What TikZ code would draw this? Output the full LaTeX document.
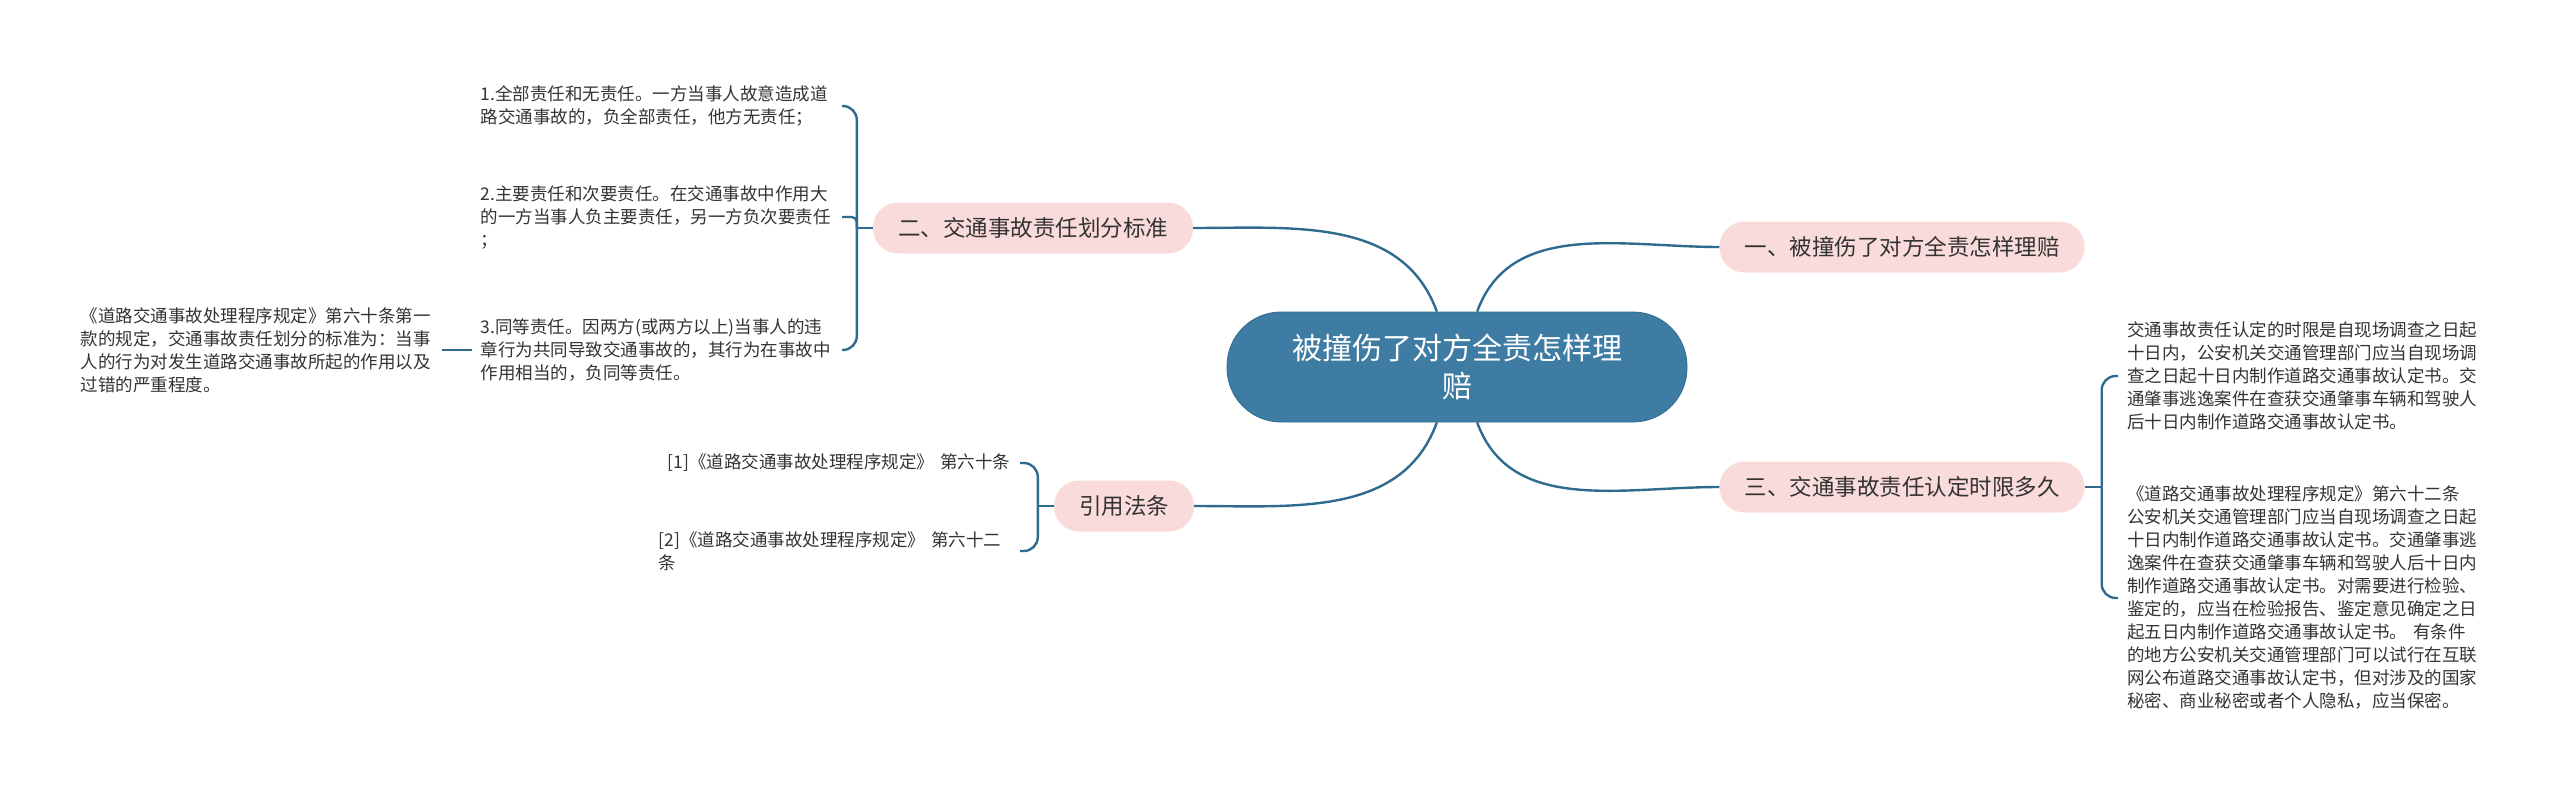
\documentclass[tikz,border=0pt]{standalone}
\usepackage{fontspec}
\setmainfont{Noto Sans CJK SC}
\usetikzlibrary{positioning}
\definecolor{rootblue}{HTML}{3E7CA3}
\definecolor{linkblue}{HTML}{2F6B8F}
\definecolor{branchpink}{HTML}{FADBDB}
\definecolor{textgray}{HTML}{333333}
\tikzset{
  root/.style={rectangle,rounded corners=54pt,fill=rootblue,draw=linkblue,line width=0.8pt,text=white,
    minimum width=460pt,minimum height=110pt,align=center,font=\fontsize{30}{38}\selectfont},
  branch/.style={rectangle,rounded corners=25pt,fill=branchpink,text=textgray,minimum height=51pt,
    inner xsep=25pt,font=\fontsize{22.5}{27}\selectfont},
  leaf/.style={text=textgray,text width=352pt,align=left,inner xsep=9pt,inner ysep=6pt,
    font=\fontsize{17.5}{23}\selectfont},
  link/.style={draw=linkblue,line width=2.4pt},
}
\begin{document}
\begin{tikzpicture}[x=1pt,y=-1pt]
\useasboundingbox (0,0) rectangle (2560,795);
% centre and first level
\node[root] (root) at (1457,367) {被撞伤了对方全责怎样理\\赔};
\node[branch] (b1) at (1902,247) {一、被撞伤了对方全责怎样理赔};
\node[branch] (b2) at (1033,228) {二、交通事故责任划分标准};
\node[branch] (b3) at (1902,487) {三、交通事故责任认定时限多久};
\node[branch] (b4) at (1124,506) {引用法条};
% leaves
\node[leaf,anchor=east] (d1) at (842,106) {1.全部责任和无责任。一方当事人故意造成道\\路交通事故的，负全部责任，他方无责任；};
\node[leaf,anchor=east] (d2) at (842,217) {2.主要责任和次要责任。在交通事故中作用大\\的一方当事人负主要责任，另一方负次要责任\\；};
\node[leaf,anchor=east] (d3) at (842,350) {3.同等责任。因两方(或两方以上)当事人的违\\章行为共同导致交通事故的，其行为在事故中\\作用相当的，负同等责任。};
\node[leaf,anchor=east] (note) at (442,350) {《道路交通事故处理程序规定》第六十条第一\\款的规定，交通事故责任划分的标准为：当事\\人的行为对发生道路交通事故所起的作用以及\\过错的严重程度。};
\node[leaf,anchor=east] (ref1) at (1020,463) {\hspace*{9pt}[1]《道路交通事故处理程序规定》 第六十条};
\node[leaf,anchor=east] (ref2) at (1020,551) {[2]《道路交通事故处理程序规定》 第六十二\\条};
\node[leaf,anchor=west] (t1) at (2118,376) {交通事故责任认定的时限是自现场调查之日起\\十日内，公安机关交通管理部门应当自现场调\\查之日起十日内制作道路交通事故认定书。交\\通肇事逃逸案件在查获交通肇事车辆和驾驶人\\后十日内制作道路交通事故认定书。};
\node[leaf,anchor=west] (t2) at (2118,598) {《道路交通事故处理程序规定》第六十二条\\公安机关交通管理部门应当自现场调查之日起\\十日内制作道路交通事故认定书。交通肇事逃\\逸案件在查获交通肇事车辆和驾驶人后十日内\\制作道路交通事故认定书。对需要进行检验、\\鉴定的，应当在检验报告、鉴定意见确定之日\\起五日内制作道路交通事故认定书。 有条件\\的地方公安机关交通管理部门可以试行在互联\\网公布道路交通事故认定书，但对涉及的国家\\秘密、商业秘密或者个人隐私，应当保密。};
% links from the centre
\draw[link] (root) to[out=70,in=180] (b1.west);
\draw[link] (root) to[out=110,in=0] (b2.east);
\draw[link] (root) to[out=290,in=180] (b3.west);
\draw[link] (root) to[out=250,in=0] (b4.east);
% brackets
\coordinate (j2) at ([xshift=-16pt]b2.west);
\coordinate (j3) at ([xshift=17pt]b3.east);
\coordinate (j4) at ([xshift=-16pt]b4.west);
\draw[link] (b2.west) -- (j2);
\draw[link,rounded corners=14pt] (d1.east) -| (j2) |- (d3.east);
\draw[link,rounded corners=5pt] (j2) |- (d2.east);
\draw[link] (note.east) -- (d3.west);
\draw[link] (b4.west) -- (j4);
\draw[link,rounded corners=14pt] (ref1.east) -| (j4) |- (ref2.east);
\draw[link] (b3.east) -- (j3);
\draw[link,rounded corners=14pt] (t1.west) -| (j3) |- (t2.west);
\end{tikzpicture}
\end{document}
